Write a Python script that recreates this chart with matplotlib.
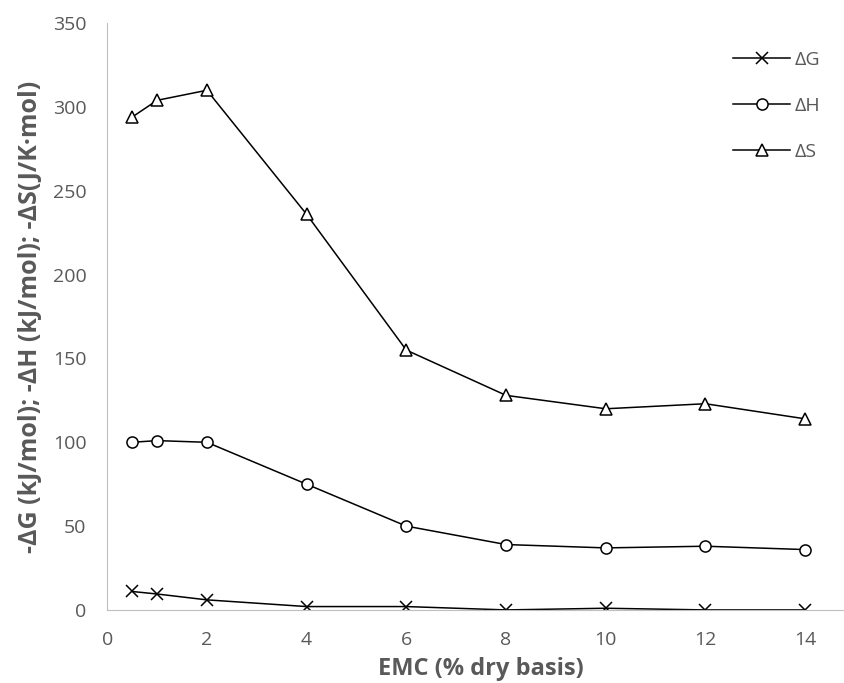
import matplotlib
matplotlib.use("Agg")
import matplotlib.pyplot as plt

plt.rcParams['font.family'] = ['Open Sans', 'DejaVu Sans']

# moisture content (% dry basis)
emc = [0.5, 1, 2, 4, 6, 8, 10, 12, 14]
# thermodynamic properties
dG = [11, 9.5, 6, 2, 2, 0, 1, 0, 0]
dH = [100, 101, 100, 75, 50, 39, 37, 38, 36]
dS = [294, 304, 310, 236, 155, 128, 120, 123, 114]

fig = plt.figure(figsize=(8.44, 6.83), dpi=100)
ax = fig.add_axes([0.127, 0.107, 0.886, 0.859])

ax.plot(emc, dG, color="black", lw=1.1, marker="x", ms=9, mew=1.1, label="ΔG")
ax.plot(emc, dH, color="black", lw=1.1, marker="o", ms=8, mfc="white", mew=1.1, label="ΔH")
ax.plot(emc, dS, color="black", lw=1.1, marker="^", ms=8, mfc="white", mew=1.1, label="ΔS")

ax.set_xlim(0, 15)
ax.set_ylim(0, 350)
ax.set_xticks(range(0, 15, 2))
ax.set_yticks(range(0, 351, 50))
ax.tick_params(length=0, labelsize=14, colors="#595959", pad=15)

for s in ["top", "right"]:
    ax.spines[s].set_visible(False)
ax.spines["left"].set_color("#bfbfbf")
ax.spines["bottom"].set_color("#bfbfbf")

ax.set_xlabel("EMC (% dry basis)", fontsize=17, fontweight="bold", color="#595959", labelpad=6)
ax.set_ylabel("-ΔG (kJ/mol); -ΔH (kJ/mol); -ΔS(J/K·mol)", fontsize=18,
              fontweight="bold", color="#595959", labelpad=7)

leg = ax.legend(loc="upper left", bbox_to_anchor=(0.824, 0.97), frameon=False, borderpad=0,
                fontsize=14, labelspacing=1.45, handlelength=2.95, handletextpad=0.2)
for t in leg.get_texts():
    t.set_color("#595959")

fig.savefig("out.png", dpi=100)
